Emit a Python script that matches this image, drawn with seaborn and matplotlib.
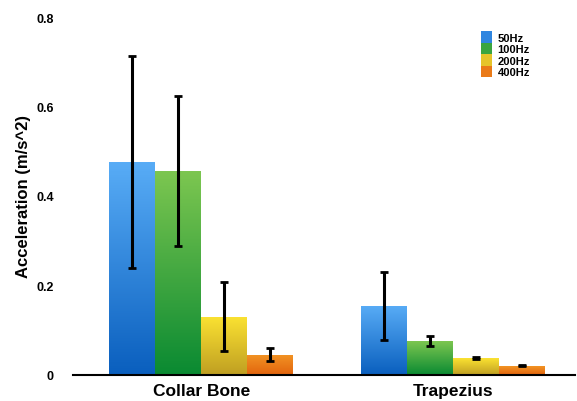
import numpy as np
import pandas as pd
import matplotlib
matplotlib.use("Agg")
import matplotlib.pyplot as plt
import seaborn as sns
from matplotlib.colors import LinearSegmentedColormap
from matplotlib.patches import Patch

# data
locations = ["Collar Bone", "Trapezius"]
frequencies = ["50Hz", "100Hz", "200Hz", "400Hz"]
collar_mean = [0.476, 0.456, 0.130, 0.045]
collar_err = [0.238, 0.167, 0.077, 0.014]
trap_mean = [0.155, 0.076, 0.038, 0.020]
trap_err = [0.076, 0.012, 0.003, 0.001]

# gradient colours (top, bottom) per frequency
grad_colors = {
    "50Hz": ("#58acf6", "#0a5fbe"),
    "100Hz": ("#7cc650", "#0a8a32"),
    "200Hz": ("#fbe232", "#bf9f22"),
    "400Hz": ("#f29424", "#e2640e"),
}
legend_colors = ["#2f86e0", "#3aa540", "#e6c42a", "#ea7a18"]

df = pd.DataFrame({
    "location": np.repeat(locations, len(frequencies)),
    "freq": frequencies * len(locations),
    "mean": collar_mean + trap_mean,
    "err": collar_err + trap_err,
})

sns.set_theme(style="white")
plt.rcParams["font.family"] = ["Liberation Sans", "DejaVu Sans"]
plt.rcParams["text.color"] = "black"
plt.rcParams["axes.labelcolor"] = "black"
plt.rcParams["xtick.color"] = "black"
plt.rcParams["ytick.color"] = "black"

fig = plt.figure(figsize=(5.77, 4.02), dpi=100)
ax = fig.add_axes([0.127, 0.065, 0.870, 0.89])

palette = {f: grad_colors[f][0] for f in frequencies}
sns.barplot(data=df, x="location", y="mean", hue="freq", hue_order=frequencies,
            order=locations, palette=palette, width=0.73, gap=0, errorbar=None,
            legend=False, ax=ax)

# gradient fill + error bars
bars = ax.patches
for i, f in enumerate(frequencies):
    cmap = LinearSegmentedColormap.from_list(f, [grad_colors[f][1], grad_colors[f][0]])
    for j, loc in enumerate(locations):
        p = bars[i * len(locations) + j]
        x0, w, h = p.get_x(), p.get_width(), p.get_height()
        grad = np.linspace(0, 1, 100).reshape(-1, 1)
        im = ax.imshow(grad, extent=[x0, x0 + w, 0, h], origin="lower",
                       cmap=cmap, aspect="auto", zorder=2)
        im.set_clip_path(p)
        p.set_facecolor("none")
        p.set_edgecolor("none")
        row = df[(df["location"] == loc) & (df["freq"] == f)].iloc[0]
        ax.errorbar(x0 + w / 2, row["mean"], yerr=row["err"], fmt="none",
                    ecolor="black", elinewidth=2.2, capsize=3, capthick=2, zorder=3)

ax.set_xlim(-0.508, 1.484)
ax.set_ylim(0, 0.8)
ax.set_yticks([0, 0.2, 0.4, 0.6, 0.8])
ax.set_yticklabels(["0", "0.2", "0.4", "0.6", "0.8"], fontsize=9, fontweight="bold")
ax.tick_params(axis="x", labelsize=12.5, pad=6, length=0)
ax.tick_params(axis="y", length=0, pad=14)
for lbl in ax.get_xticklabels():
    lbl.set_fontweight("bold")
ax.set_xlabel("")
ax.set_ylabel("Acceleration (m/s^2)", fontsize=12, fontweight="bold", labelpad=4)

for s in ["top", "right", "left"]:
    ax.spines[s].set_visible(False)
ax.spines["bottom"].set_color("black")
ax.spines["bottom"].set_linewidth(1.5)

handles = [Patch(facecolor=c, edgecolor="none", label=f)
           for f, c in zip(frequencies, legend_colors)]
leg = ax.legend(handles=handles, loc="upper left", bbox_to_anchor=(0.812, 0.96),
                frameon=False, handlelength=1.0, handleheight=1.2, handletextpad=0.5,
                labelspacing=0.0, borderaxespad=0, borderpad=0, fontsize=8)
for t in leg.get_texts():
    t.set_fontweight("bold")

fig.savefig("out.png", dpi=100)
